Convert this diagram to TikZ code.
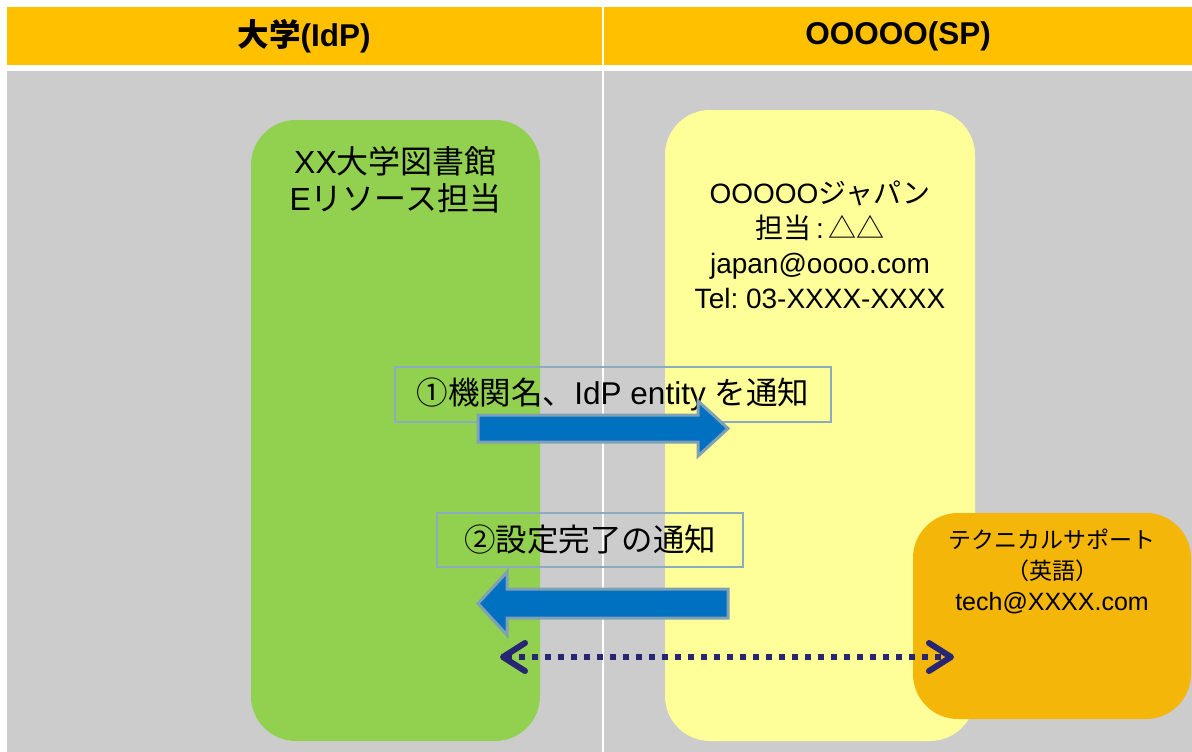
\documentclass[tikz,border=0pt]{standalone}
\usepackage{fontspec}
\setmainfont{Liberation Sans}
\newfontfamily\jp{Noto Sans CJK JP}
\usetikzlibrary{arrows.meta}
\frenchspacing
\definecolor{hdr}{RGB}{255,192,0}
\definecolor{bggray}{RGB}{204,204,204}
\definecolor{idpgreen}{RGB}{146,208,80}
\definecolor{spyellow}{RGB}{255,255,153}
\definecolor{techorange}{RGB}{245,182,10}
\definecolor{arrowblue}{RGB}{0,112,192}
\definecolor{arrowedge}{RGB}{128,160,182}
\definecolor{labeledge}{RGB}{140,170,192}
\definecolor{navy}{RGB}{38,38,115}
\tikzset{
  panel/.style={rounded corners=45pt},
  hdrtext/.style={font=\fontsize{31.5}{34}\selectfont\bfseries, inner sep=0pt},
  labelbox/.style={draw=labeledge, line width=1.2pt, inner sep=0pt, font=\fontsize{31.5}{36}\selectfont},
  bigarrow/.style={fill=arrowblue, draw=arrowedge, line width=3pt, line join=miter},
  dotarrow/.style={draw=navy, line width=6pt, dash pattern=on 6pt off 7pt,
     {Straight Barb[length=22pt,width=28pt,line width=6pt,round]}-{Straight Barb[length=22pt,width=28pt,line width=6pt,round]}}
}
\begin{document}
\begin{tikzpicture}[x=1pt,y=-1pt]
\useasboundingbox (0,0) rectangle (1192,752);
\fill[white] (0,0) rectangle (1192,752);
% header and lanes
\fill[hdr] (7,7) rectangle (601.5,65);
\fill[hdr] (604,7) rectangle (1192,65);
\fill[bggray] (7,71) rectangle (601.5,752);
\fill[bggray] (604,71) rectangle (1192,752);
\node[hdrtext] (hl) at (304,36) {{\jp 大学}(IdP)};
\node[hdrtext] (hr) at (898,36) {OOOOO(SP)};
% panels
\fill[idpgreen, panel] (251,120) rectangle (540,741);
\fill[spyellow, panel] (665,110) rectangle (975,741);
\fill[techorange, panel] (913,513) rectangle (1191,719);
% panel texts
\node[align=center, inner sep=0pt, font=\fontsize{32}{37}\selectfont] (idptext) at (395.5,180)
  {XX{\jp 大学図書館}\\E{\jp リソース担当}};
\node[align=center, inner sep=0pt, font=\fontsize{28}{35}\selectfont] (sptext) at (820,245)
  {OOOOO{\jp ジャパン}\\{\jp 担当}\,:\,{\jp △△}\\japan@oooo.com\\Tel: 03-XXXX-XXXX};
\node[align=center, inner sep=0pt, font=\fontsize{25}{31}\selectfont] (techtext) at (1052,571)
  {{\jp\fontsize{23}{31}\selectfont テクニカルサポート}\\{\jp\fontsize{23}{31}\selectfont （英語）}\\tech@XXXX.com};
% labels
\node[labelbox, minimum width=436, minimum height=55] (l1) at (613,394.5)
  {{\jp ①機関名、}IdP entity {\jp を通知}};
\node[labelbox, minimum width=306, minimum height=54] (l2) at (590,540)
  {{\jp ②設定完了の通知}};
% big arrows
\draw[bigarrow] (478,415) -- (698,415) -- (698,401) -- (728,428.5) -- (698,456) -- (698,442) -- (478,442) -- cycle;
\draw[bigarrow] (728,589) -- (507,589) -- (507,572) -- (478,603.5) -- (507,635) -- (507,618) -- (728,618) -- cycle;
% dotted two-way arrow
\coordinate (dl) at (500,657);
\coordinate (dr) at (954,657);
\draw[dotarrow] (dl) -- (dr);
\end{tikzpicture}
\end{document}
